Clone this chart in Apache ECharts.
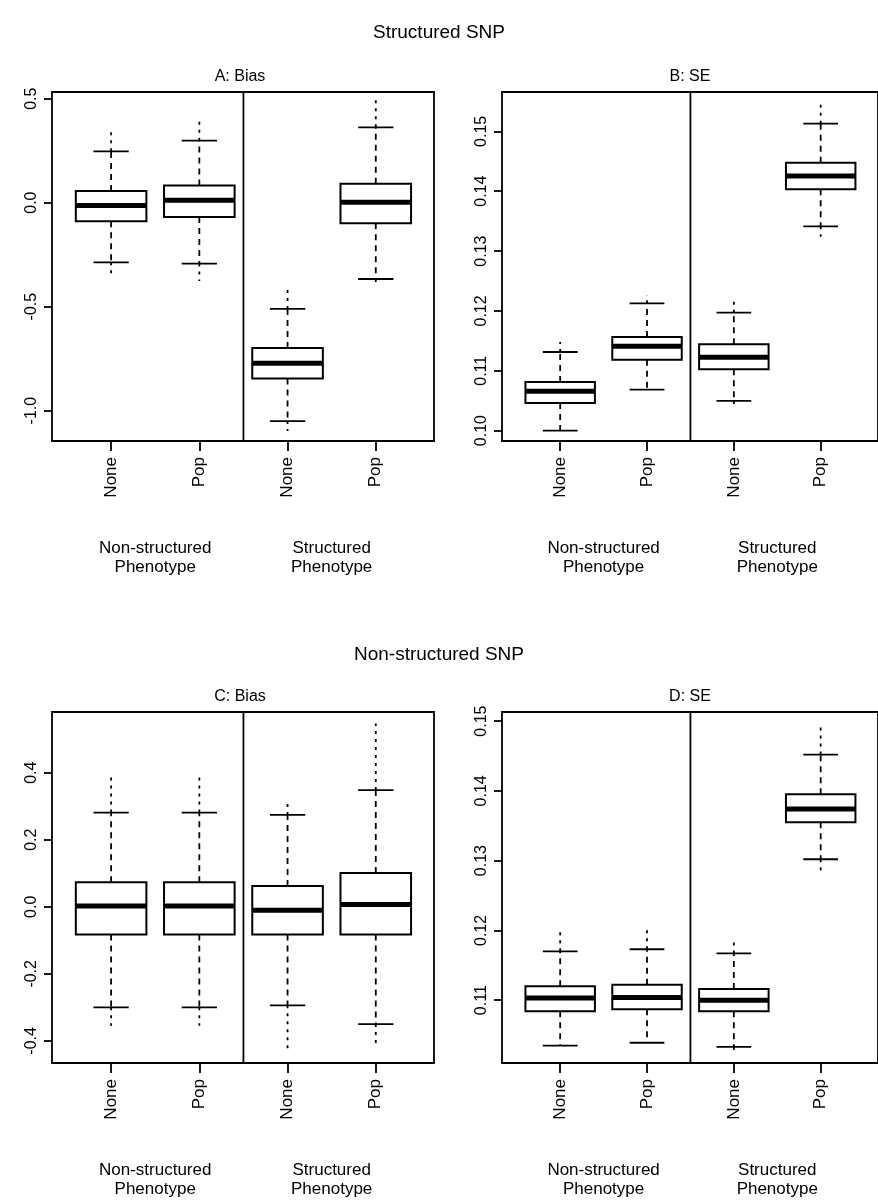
<!DOCTYPE html>
<html><head><meta charset="utf-8">
<script src="https://cdn.jsdelivr.net/npm/echarts@6/dist/echarts.min.js"></script>
<style>html,body{margin:0;padding:0;background:#fff}#c{width:878px;height:1202px}</style>
</head><body><div id="c"></div>
<script>
var boxNames = ['None', 'Pop', 'None', 'Pop'];
var groupNames = ['Non-structured\nPhenotype', 'Structured\nPhenotype'];
// each row: lowest point, lower whisker, q1, median, q3, upper whisker, highest point
var biasA = [
    [-0.361, -0.287, -0.090, -0.014, 0.056, 0.247, 0.345],
    [-0.377, -0.293, -0.069, 0.011, 0.083, 0.298, 0.405],
    [-1.098, -1.050, -0.845, -0.772, -0.699, -0.511, -0.410],
    [-0.388, -0.367, -0.099, 0.002, 0.091, 0.362, 0.494]
];
var seB = [
    [0.1000, 0.1000, 0.10462, 0.10657, 0.10813, 0.11314, 0.11481],
    [0.10685, 0.10685, 0.11186, 0.11409, 0.11565, 0.12127, 0.12266],
    [0.10362, 0.10496, 0.11024, 0.11225, 0.11442, 0.11971, 0.12199],
    [0.1324, 0.13413, 0.14031, 0.14254, 0.14477, 0.15128, 0.15512]
];
var biasC = [
    [-0.355, -0.300, -0.083, 0.002, 0.073, 0.281, 0.398],
    [-0.355, -0.300, -0.083, 0.002, 0.073, 0.281, 0.398],
    [-0.433, -0.294, -0.083, -0.010, 0.062, 0.274, 0.318],
    [-0.408, -0.350, -0.083, 0.007, 0.101, 0.348, 0.547]
];
var seD = [
    [0.1035, 0.1035, 0.1084, 0.1103, 0.1120, 0.1170, 0.1200],
    [0.1039, 0.1039, 0.1087, 0.1104, 0.1122, 0.1173, 0.1202],
    [0.1024, 0.1033, 0.1084, 0.1100, 0.1116, 0.1167, 0.1189],
    [0.1283, 0.1302, 0.1355, 0.1374, 0.1395, 0.1452, 0.1498]
];
var ticksA = [-1.0, -0.5, 0.0, 0.5];
var ticksB = [0.10, 0.11, 0.12, 0.13, 0.14, 0.15];
var ticksC = [-0.4, -0.2, 0.0, 0.2, 0.4];
var ticksD = [0.11, 0.12, 0.13, 0.14, 0.15];

var panels = [
    {title: 'A: Bias', data: biasA, ticks: ticksA, min: -1.146, max: 0.532, dec: 1, left: 52, top: 92, width: 382, height: 349},
    {title: 'B: SE', data: seB, ticks: ticksB, min: 0.09827, max: 0.15657, dec: 2, left: 502, top: 92, width: 382, height: 349},
    {title: 'C: Bias', data: biasC, ticks: ticksC, min: -0.466, max: 0.581, dec: 1, left: 52, top: 712, width: 382, height: 351},
    {title: 'D: SE', data: seD, ticks: ticksD, min: 0.101, max: 0.1513, dec: 2, left: 502, top: 712, width: 382, height: 351}
];
var FONT = 'Liberation Sans';

function renderBox(params, api) {
    var x = api.value(0);
    var hw = 0.4;
    function P(xx, yy) { return api.coord([xx, yy]); }
    var lo2 = api.value(1), lo = api.value(2), q1 = api.value(3), md = api.value(4),
        q3 = api.value(5), hi = api.value(6), hi2 = api.value(7);
    var solid = {stroke: '#000', lineWidth: 1.8, fill: null};
    var dash = {stroke: '#000', lineWidth: 1.8, lineDash: [6, 5]};
    var dot = {stroke: '#000', lineWidth: 1.8, lineDash: [3, 5]};
    var a = P(x - hw, q3), b = P(x + hw, q1);
    function seg(x1, y1, x2, y2, st) {
        var p = P(x1, y1), q = P(x2, y2);
        return {type: 'line', shape: {x1: p[0], y1: p[1], x2: q[0], y2: q[1]}, style: st};
    }
    var ch = [
        seg(x, q3, x, hi, dash),
        seg(x, q1, x, lo, dash),
        seg(x, hi, x, hi2, dot),
        seg(x, lo, x, lo2, dot),
        seg(x - hw / 2, hi, x + hw / 2, hi, solid),
        seg(x - hw / 2, lo, x + hw / 2, lo, solid),
        {type: 'rect', shape: {x: a[0], y: a[1], width: b[0] - a[0], height: b[1] - a[1]}, style: {stroke: '#000', lineWidth: 2, fill: '#fff'}},
        seg(x - hw, md, x + hw, md, {stroke: '#000', lineWidth: 5})
    ];
    return {type: 'group', children: ch};
}

function renderDecor(params, api) {
    var p1 = api.coord([2.5, api.value(1)]), p0 = api.coord([2.5, api.value(0)]);
    var g1 = api.coord([1.5, api.value(0)]), g2 = api.coord([3.5, api.value(0)]);
    var st = {fill: '#000', font: '17px ' + FONT, align: 'center', verticalAlign: 'top', lineHeight: 19};
    return {type: 'group', children: [
        {type: 'line', shape: {x1: p0[0], y1: p0[1], x2: p1[0], y2: p1[1]}, style: {stroke: '#000', lineWidth: 1.8}},
        {type: 'text', x: g1[0], y: g1[1] + 98, style: Object.assign({text: groupNames[0]}, st)},
        {type: 'text', x: g2[0], y: g2[1] + 98, style: Object.assign({text: groupNames[1]}, st)}
    ]};
}

var option = {
    backgroundColor: '#fff',
    animation: false,
    title: [
        {text: 'Structured SNP', left: 'center', top: 18, textStyle: {fontFamily: FONT, fontSize: 19, fontWeight: 'normal', color: '#000'}},
        {text: 'Non-structured SNP', left: 'center', top: 640, textStyle: {fontFamily: FONT, fontSize: 19, fontWeight: 'normal', color: '#000'}}
    ],
    grid: [], xAxis: [], yAxis: [], series: []
};
panels.forEach(function (p, i) {
    option.title.push({text: p.title, left: p.left + p.width / 2 - 8, textAlign: 'center', top: p.top - 28,
        textStyle: {fontFamily: FONT, fontSize: 16, fontWeight: 'normal', color: '#000'}});
    option.grid.push({left: p.left, top: p.top, width: p.width, height: p.height, show: true,
        borderColor: '#000', borderWidth: 1.8, backgroundColor: 'transparent', containLabel: false});
    option.xAxis.push({type: 'value', gridIndex: i, min: 0.33, max: 4.66, splitLine: {show: false},
        position: 'bottom', axisLine: {show: false, onZero: false},
        axisTick: {show: true, customValues: [1, 2, 3, 4], length: 10, lineStyle: {color: '#000', width: 1.8}},
        axisLabel: {customValues: [1, 2, 3, 4], rotate: 90, margin: 16, fontFamily: FONT, fontSize: 17, color: '#000',
            formatter: function (v) { return boxNames[Math.round(v) - 1]; }}});
    option.yAxis.push({type: 'value', gridIndex: i, min: p.min, max: p.max, splitLine: {show: false},
        axisLine: {show: false, onZero: false},
        axisTick: {show: true, customValues: p.ticks, length: 8, lineStyle: {color: '#000', width: 1.8}},
        axisLabel: {customValues: p.ticks, rotate: 90, margin: 12, fontFamily: FONT, fontSize: 16, color: '#000',
            formatter: function (v) { return v.toFixed(p.dec); }}});
    option.series.push({type: 'custom', xAxisIndex: i, yAxisIndex: i, renderItem: renderDecor,
        encode: {x: 0, y: 1}, data: [[p.min, p.max]], silent: true, z: 1, clip: false});
    option.series.push({type: 'custom', xAxisIndex: i, yAxisIndex: i, renderItem: renderBox, silent: true, z: 2,
        encode: {x: 0, y: 4}, clip: false,
        data: p.data.map(function (r, k) { return [k + 1].concat(r); })});
});
echarts.init(document.getElementById('c')).setOption(option);
</script></body></html>
